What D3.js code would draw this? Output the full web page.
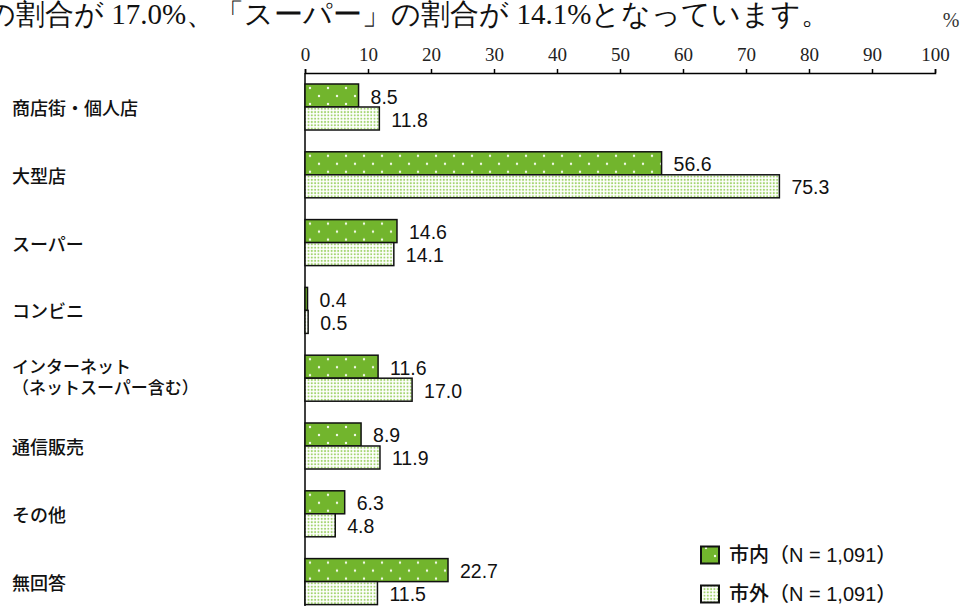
<!DOCTYPE html>
<html>
<head>
<meta charset="utf-8">
<script src="https://cdn.jsdelivr.net/npm/d3@7"></script>
<style>
  html, body { margin: 0; padding: 0; background: #fff; }
  svg { display: block; }
</style>
</head>
<body>
<svg id="chart" width="961" height="606"></svg>
<script>
// Shopping places: share of respondents (%), inside vs. outside the city
const categories = ['商店街・個人店', '大型店', 'スーパー', 'コンビニ', 'インターネット\n（ネットスーパー含む）', '通信販売', 'その他', '無回答'];
const insideValues = [8.5, 56.6, 14.6, 0.4, 11.6, 8.9, 6.3, 22.7];
const outsideValues = [11.8, 75.3, 14.1, 0.5, 17.0, 11.9, 4.8, 11.5];
const seriesNames = ['市内（N = 1,091）', '市外（N = 1,091）'];
const xTicks = [0, 10, 20, 30, 40, 50, 60, 70, 80, 90, 100];
const headline = 'の割合が 17.0%、「スーパー」の割合が 14.1%となっています。';

const svg = d3.select('#chart');
const serif = '"Liberation Serif", "DejaVu Serif", serif';
const sans = '"Noto Sans CJK JP", "Noto Sans", sans-serif';
const numFont = '"Liberation Sans", Arial, sans-serif';
const mixed = '"Liberation Sans", "Noto Sans CJK JP", sans-serif';

// fill patterns
const defs = svg.append('defs');
const pIn = defs.append('pattern').attr('id', 'fill-in')
  .attr('patternUnits', 'userSpaceOnUse').attr('width', 18).attr('height', 16);
pIn.append('rect').attr('width', 18).attr('height', 16).attr('fill', '#72b52d');
pIn.append('circle').attr('cx', 4).attr('cy', 4).attr('r', 1.2).attr('fill', '#f4fbe9');
pIn.append('circle').attr('cx', 13).attr('cy', 12).attr('r', 1.2).attr('fill', '#f4fbe9');

const pOut = defs.append('pattern').attr('id', 'fill-out')
  .attr('patternUnits', 'userSpaceOnUse').attr('width', 3.3).attr('height', 3.3);
pOut.append('rect').attr('width', 3.3).attr('height', 3.3).attr('fill', '#ffffff');
pOut.append('circle').attr('cx', 1.6).attr('cy', 1.6).attr('r', 1.05).attr('fill', '#a3d46f');

// body text line running above the chart
svg.append('text')
  .attr('x', -14).attr('y', 24)
  .attr('font-family', serif).attr('font-size', 29).attr('fill', '#111')
  .text(headline);

// unit label
svg.append('text')
  .attr('x', 951).attr('y', 27).attr('text-anchor', 'middle')
  .attr('font-family', serif).attr('font-size', 20).attr('fill', '#333')
  .text('%');

// scales
const x = d3.scaleLinear().domain([0, 100]).range([305, 935]);
const y = d3.scaleBand().domain(categories).range([84, 604.6]).paddingInner(0.3215).paddingOuter(0);
const ySub = d3.scaleBand().domain(['in', 'out']).range([0, y.bandwidth()]);

// top axis
const axisY = 73;
const axis = svg.append('g')
  .attr('transform', `translate(0,${axisY})`)
  .call(d3.axisTop(x).tickValues(xTicks).tickSize(4).tickSizeOuter(4).tickPadding(8));
axis.select('.domain').attr('stroke', '#000').attr('stroke-width', 1.5);
axis.selectAll('.tick line').attr('stroke', '#000').attr('stroke-width', 1.5);
axis.selectAll('.tick text')
  .attr('font-family', serif).attr('font-size', 19).attr('fill', '#222');

// vertical baseline
svg.append('line')
  .attr('x1', x(0)).attr('x2', x(0))
  .attr('y1', axisY).attr('y2', 606)
  .attr('stroke', '#000').attr('stroke-width', 1.5);

// bars
const rows = categories.map((c, i) => ({ c, inside: insideValues[i], outside: outsideValues[i] }));
const groups = svg.append('g').selectAll('g').data(rows).join('g')
  .attr('transform', d => `translate(0,${y(d.c)})`);

const series = [
  { key: 'in', get: d => d.inside, fill: 'url(#fill-in)' },
  { key: 'out', get: d => d.outside, fill: 'url(#fill-out)' }
];

series.forEach(s => {
  groups.append('rect')
    .attr('x', x(0))
    .attr('y', ySub(s.key))
    .attr('width', d => x(s.get(d)) - x(0))
    .attr('height', ySub.bandwidth())
    .attr('fill', s.fill)
    .attr('stroke', '#111').attr('stroke-width', 1.5);
  groups.append('text')
    .attr('x', d => x(s.get(d)) + 12)
    .attr('y', ySub(s.key) + ySub.bandwidth() / 2 + 1)
    .attr('dominant-baseline', 'central')
    .attr('font-family', numFont).attr('font-size', 19.5).attr('fill', '#111')
    .text(d => s.get(d).toFixed(1));
});

// category labels (multi-line labels as tspans of one text)
groups.each(function (d) {
  const lines = d.c.split('\n');
  const mid = y.bandwidth() / 2;
  const lh = 21.5;
  const t = d3.select(this).append('text')
    .attr('font-family', sans).attr('font-size', lines.length > 1 ? 17 : 18)
    .attr('font-weight', 500).attr('fill', '#111');
  lines.forEach((ln, k) => {
    t.append('tspan')
      .attr('x', 12)
      .attr('y', mid + (k - (lines.length - 1) / 2) * lh - (lines.length > 1 ? 2 : 0))
      .attr('dominant-baseline', 'central')
      .text(ln);
  });
});

// legend
const legend = svg.append('g');
[['url(#fill-in)', 555], ['url(#fill-out)', 594]].forEach(([fill, cy], i) => {
  legend.append('rect')
    .attr('x', 701).attr('y', cy - 8.5).attr('width', 18).attr('height', 17)
    .attr('fill', fill).attr('stroke', '#111').attr('stroke-width', 2);
  legend.append('text')
    .attr('x', 729).attr('y', cy)
    .attr('dominant-baseline', 'central')
    .attr('font-family', mixed).attr('font-size', 20).attr('font-weight', 500)
    .attr('fill', '#111').attr('xml:space', 'preserve')
    .text(seriesNames[i]);
});
</script>
</body>
</html>
